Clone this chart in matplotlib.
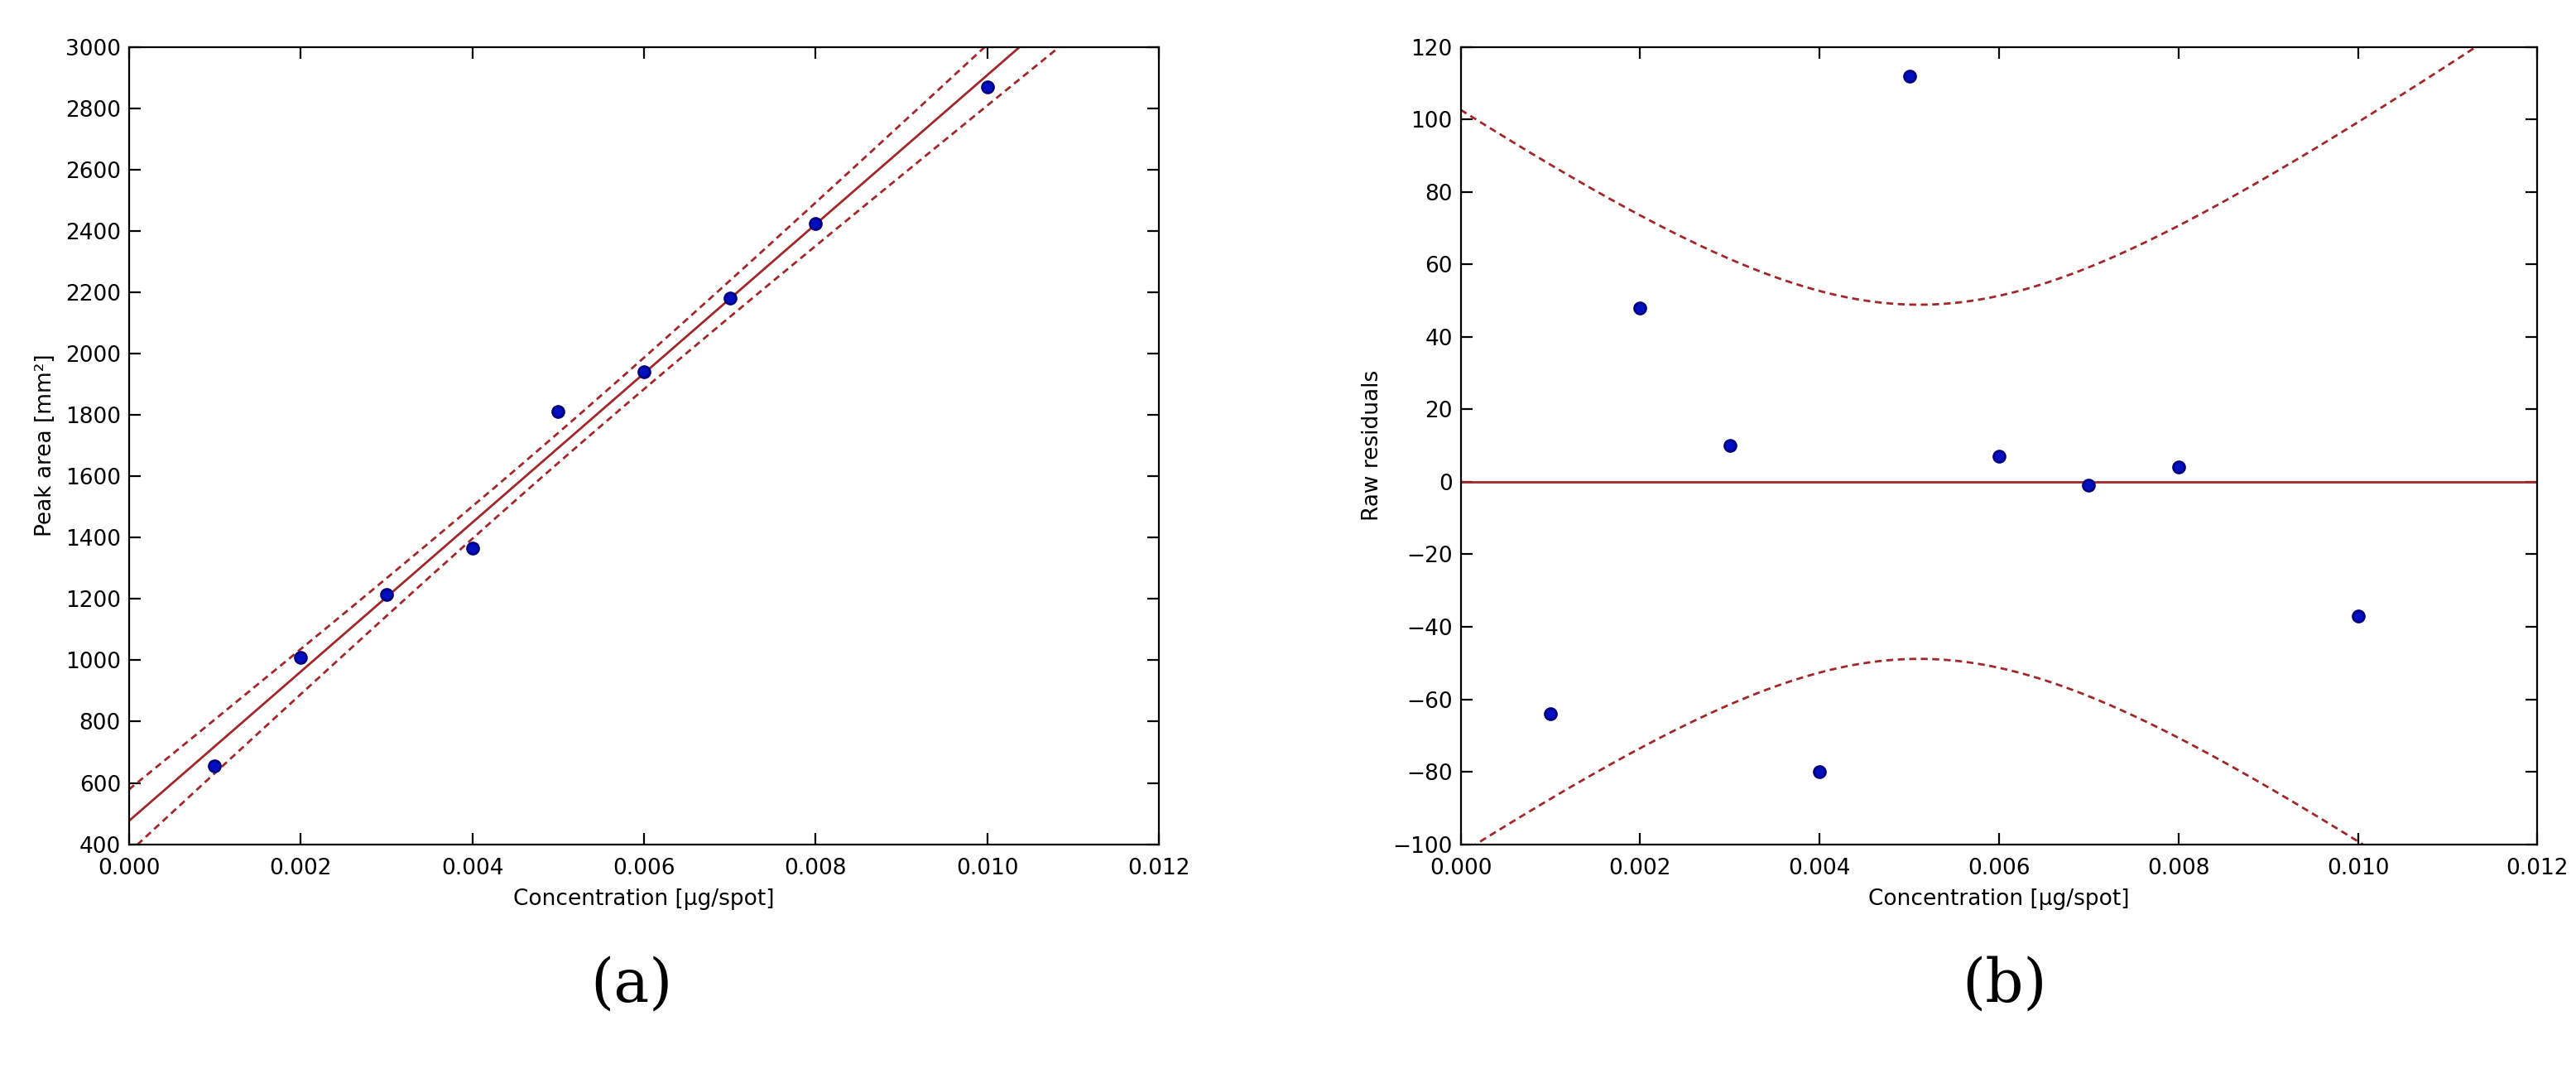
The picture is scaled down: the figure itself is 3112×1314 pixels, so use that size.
import matplotlib
matplotlib.use("Agg")
import matplotlib.pyplot as plt
import matplotlib.ticker as mtick
import numpy as np

conc = np.array([0.001, 0.002, 0.003, 0.004, 0.005, 0.006, 0.007, 0.008, 0.010])
area = np.array([655, 1010, 1215, 1365, 1810, 1940, 2180, 2425, 2870], dtype=float)
resid = np.array([-64, 48, 10, -80, 112, 7, -1, 4, -37], dtype=float)

# linear fit (fitted values = area - residuals) + 95% confidence band of the mean
b, a = np.polyfit(conc, area - resid, 1)
n = len(conc)
s = np.sqrt(np.sum(resid ** 2) / (n - 2))
t = 2.365
xm = conc.mean()
sxx = np.sum((conc - xm) ** 2)
xx = np.linspace(0, 0.012, 400)
half = t * s * np.sqrt(1 / n + (xx - xm) ** 2 / sxx)
fit = a + b * xx

LINE = "#a0282a"
PT = "#0010c0"
plt.rcParams["font.family"] = ["DejaVu Sans"]
plt.rcParams["font.size"] = 9.5

fig = plt.figure(figsize=(15.56, 6.57), dpi=200)
ax1 = fig.add_axes([0.05, 0.224, 0.40, 0.733])
ax2 = fig.add_axes([0.567, 0.224, 0.418, 0.733])

ax1.plot(xx, fit, color=LINE, lw=1)
ax1.plot(xx, fit + half, color=LINE, lw=1, ls="--", dashes=(3, 2))
ax1.plot(xx, fit - half, color=LINE, lw=1, ls="--", dashes=(3, 2))
ax1.plot(conc, area, "o", color=PT, mec="#000080", ms=5)
ax1.set_ylim(400, 3000)
ax1.set_yticks(np.arange(400, 3001, 200))
ax1.set_ylabel("Peak area [mm²]")

ax2.axhline(0, color=LINE, lw=1)
ax2.plot(xx, half, color=LINE, lw=1, ls="--", dashes=(3, 2))
ax2.plot(xx, -half, color=LINE, lw=1, ls="--", dashes=(3, 2))
ax2.plot(conc, resid, "o", color=PT, mec="#000080", ms=5)
ax2.set_ylim(-100, 120)
ax2.set_yticks(np.arange(-100, 121, 20))
ax2.set_ylabel("Raw residuals")

for ax in (ax1, ax2):
    ax.set_xlim(0, 0.012)
    ax.set_xticks(np.arange(0, 0.0121, 0.002))
    ax.xaxis.set_major_formatter(mtick.FormatStrFormatter("%.3f"))
    ax.set_xlabel("Concentration [µg/spot]")
    ax.tick_params(direction="in", top=True, right=True, length=5)
    ax.tick_params(axis="x", pad=6)

fig.text(0.245, 0.095, "(a)", family="DejaVu Serif", fontsize=26, ha="center", va="center")
fig.text(0.778, 0.095, "(b)", family="DejaVu Serif", fontsize=26, ha="center", va="center")

fig.savefig("out.png", dpi=200)
